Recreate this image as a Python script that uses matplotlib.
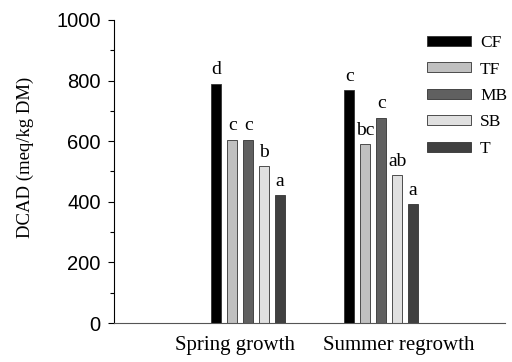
import numpy as np
import matplotlib
matplotlib.use("Agg")
from matplotlib import pyplot as plt
from matplotlib.ticker import MultipleLocator

groups = ["Spring growth", "Summer regrowth"]
treatments = ["CF", "TF", "MB", "SB", "T"]
spring = [790, 605, 605, 518, 422]
summer = [768, 590, 678, 487, 392]
spring_letters = ["d", "c", "c", "b", "a"]
summer_letters = ["c", "bc", "c", "ab", "a"]
colors = ["#000000", "#c0c0c0", "#606060", "#e0e0e0", "#404040"]

serif = "Liberation Serif"
sans = "Liberation Sans"

fig = plt.figure(figsize=(5.12, 3.62), dpi=100)
ax = fig.add_axes([0.2227, 0.1077, 0.7633, 0.8371])

centers = np.array([1.0, 2.0])
width = 0.075
step = 0.12
values = np.array([spring, summer]).T
letters = np.array([spring_letters, summer_letters]).T

for i, name in enumerate(treatments):
    xs = centers + (i - 2) * step
    ax.bar(xs, values[i], width=width, color=colors[i], edgecolor="#333333",
           linewidth=0.6, label=name)
    for x, v, l in zip(xs, values[i], letters[i]):
        ax.text(x, v + 18, l, ha="center", va="bottom", family=serif, fontsize=14)

ax.set_xlim(-0.01, 2.93)
ax.set_ylim(0, 1000)
# group labels sit a little off the bar-group centres in the original
ax.set_xticks([0.90, 2.13])
ax.set_xticklabels(groups, family=serif, fontsize=15)
ax.tick_params(axis="x", length=0, pad=9)
ax.yaxis.set_major_locator(MultipleLocator(200))
ax.yaxis.set_minor_locator(MultipleLocator(100))
ax.tick_params(axis="y", which="major", length=4.5, width=0.8, labelsize=14.5, pad=5)
ax.tick_params(axis="y", which="minor", length=3, width=0.8)
for lab in ax.get_yticklabels():
    lab.set_family(sans)
ax.set_ylabel("DCAD (meq/kg DM)", family=serif, fontsize=13.5)
ax.yaxis.set_label_coords(-0.205, 0.546)
ax.spines["top"].set_visible(False)
ax.spines["right"].set_visible(False)
ax.spines["bottom"].set_color("#555555")

ax.legend(loc="upper left", bbox_to_anchor=(0.80, 0.95), frameon=False,
          borderpad=0, borderaxespad=0,
          prop={"family": serif, "size": 12.5}, handlelength=2.53, handleheight=0.52,
          labelspacing=0.6, handletextpad=0.55)

fig.savefig("out.png", dpi=100)
